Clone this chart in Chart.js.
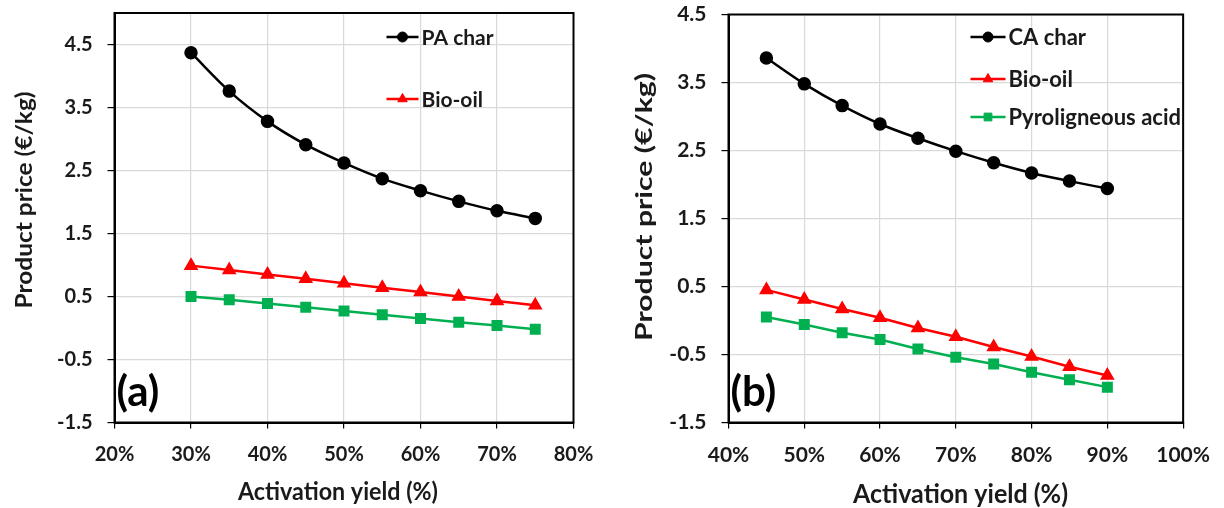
<!DOCTYPE html>
<html>
<head>
<meta charset="utf-8">
<script src="https://cdn.jsdelivr.net/npm/chart.js@4"></script>
<style>
  body { margin: 0; background: #fff; }
  .panel { position: absolute; top: 0; width: 612px; height: 508px; }
</style>
</head>
<body>
<div class="panel" style="left:0"><canvas id="chartA" width="612" height="508"></canvas></div>
<div class="panel" style="left:612px"><canvas id="chartB" width="612" height="508"></canvas></div>
<script>
// panel (a)
var yieldA = [30, 35, 40, 45, 50, 55, 60, 65, 70, 75];
var paChar = [4.37, 3.76, 3.28, 2.91, 2.62, 2.37, 2.18, 2.01, 1.86, 1.74];
var bioOilA = [0.99, 0.92, 0.85, 0.78, 0.71, 0.64, 0.57, 0.50, 0.43, 0.36];
var pyroAcidA = [0.50, 0.45, 0.39, 0.33, 0.27, 0.21, 0.15, 0.09, 0.04, -0.02];

// panel (b)
var yieldB = [45, 50, 55, 60, 65, 70, 75, 80, 85, 90];
var caChar = [3.86, 3.48, 3.16, 2.89, 2.68, 2.49, 2.32, 2.17, 2.05, 1.94];
var bioOilB = [0.45, 0.31, 0.17, 0.04, -0.11, -0.24, -0.39, -0.53, -0.68, -0.81];
var pyroAcidB = [0.05, -0.06, -0.18, -0.28, -0.42, -0.54, -0.64, -0.76, -0.87, -0.98];

var yTicks = [-1.5, -0.5, 0.5, 1.5, 2.5, 3.5, 4.5];
var xTitle = 'Activation yield (%)';
var yTitle = 'Product price (€/kg)';

var FONT = 'Lato';
var TEXT = '#1a1a1a';

function points(xs, ys) {
  return xs.map(function (x, i) { return { x: x, y: ys[i] }; });
}

function charSet(label, data) {
  return {
    label: label, data: data, borderColor: '#000', backgroundColor: '#000',
    borderWidth: 2.5, pointStyle: 'circle', pointRadius: 5.5, pointHoverRadius: 5.5,
    cubicInterpolationMode: 'monotone'
  };
}
function oilSet(data) {
  return {
    label: 'Bio-oil', data: data, borderColor: '#ff0000', backgroundColor: '#ff0000',
    borderWidth: 2.5, pointStyle: 'triangle', pointRadius: 6, pointHoverRadius: 6
  };
}
function acidSet(data) {
  return {
    label: 'Pyroligneous acid', data: data, borderColor: '#00b050', backgroundColor: '#00b050',
    borderWidth: 2.5, pointStyle: 'rect', pointRadius: 6, pointHoverRadius: 6
  };
}

// text squeezed/stretched to a given width, like the original figure
function fitText(ctx, text, cx, cy, size, width, rot) {
  ctx.save();
  ctx.font = 'bold ' + size + 'px ' + FONT;
  ctx.fillStyle = TEXT;
  ctx.textAlign = 'center';
  ctx.textBaseline = 'middle';
  ctx.translate(cx, cy);
  if (rot) ctx.rotate(-Math.PI / 2);
  ctx.scale(width / ctx.measureText(text).width, 1);
  ctx.fillText(text, 0, 0);
  ctx.restore();
}

// frame, panel letter, axis titles and in-plot legend
var decor = {
  id: 'decor',
  beforeDatasetsDraw: function (chart) {
    var a = chart.chartArea, ctx = chart.ctx;
    ctx.save();
    ctx.strokeStyle = '#000';
    ctx.lineWidth = 2;
    ctx.strokeRect(a.left, a.top, a.right - a.left, a.bottom - a.top);
    ctx.restore();
  },
  afterDatasetsDraw: function (chart, args, opts) {
    var a = chart.chartArea, ctx = chart.ctx;
    ctx.save();
    ctx.fillStyle = '#000';
    ctx.font = 'bold 42px ' + FONT;
    ctx.textBaseline = 'middle';
    ctx.fillText(opts.letter, a.left + 2, a.bottom - 30);
    ctx.restore();

    fitText(ctx, xTitle, opts.xt[0], opts.xt[1], opts.xt[2], opts.xt[3], false);
    fitText(ctx, yTitle, opts.yt[0], opts.yt[1], opts.yt[2], opts.yt[3], true);

    ctx.save();
    ctx.font = 'bold ' + opts.size + 'px ' + FONT;
    ctx.textBaseline = 'middle';
    opts.items.forEach(function (idx, k) {
      var ds = chart.data.datasets[idx];
      var x0 = a.left + opts.x, y = opts.y[k];
      ctx.strokeStyle = ds.borderColor;
      ctx.fillStyle = ds.backgroundColor;
      ctx.lineWidth = 2.5;
      ctx.beginPath();
      ctx.moveTo(x0, y);
      ctx.lineTo(x0 + opts.len, y);
      ctx.stroke();
      ctx.lineWidth = 1;
      Chart.helpers.drawPoint(ctx, {
        pointStyle: ds.pointStyle, radius: ds.pointRadius - 0.5, rotation: 0, borderWidth: 1
      }, x0 + opts.len / 2, y);
      ctx.fillStyle = TEXT;
      ctx.fillText(ds.label, x0 + opts.len + 3, y + 1);
    });
    ctx.restore();
  }
};

function makeChart(id, datasets, xMin, xMax, yMax, yWidth, pad, tick, legend) {
  return new Chart(document.getElementById(id), {
    type: 'line',
    data: { datasets: datasets },
    plugins: [decor],
    options: {
      responsive: false,
      animation: false,
      layout: { padding: { top: pad.top, right: pad.right, left: 0, bottom: 0 } },
      plugins: { legend: { display: false }, tooltip: { enabled: false }, decor: legend },
      scales: {
        x: {
          type: 'linear', min: xMin, max: xMax,
          afterFit: function (s) { s.height = 85.5; },
          ticks: {
            stepSize: 10, color: TEXT, padding: 14, maxRotation: 0,
            font: { family: FONT, size: tick, weight: 'bold' },
            callback: function (v) { return v + '%'; }
          },
          grid: { color: '#d9d9d9', lineWidth: 1.2, tickColor: '#000', tickLength: 6 },
          border: { color: '#000', width: 2 }
        },
        y: {
          min: -1.5, max: yMax,
          afterFit: function (s) {
            s.width = yWidth;
            s.paddingTop = 0;
            s.paddingBottom = 0;
          },
          afterBuildTicks: function (s) {
            s.ticks = yTicks.map(function (v) { return { value: v }; });
          },
          ticks: {
            color: TEXT, padding: 15,
            font: { family: FONT, size: tick, weight: 'bold' },
            callback: function (v) { return v.toFixed(1); }
          },
          grid: { color: '#d9d9d9', lineWidth: 1.2, tickColor: '#000', tickLength: 7 },
          border: { color: '#000', width: 2 }
        }
      }
    }
  });
}

makeChart('chartA', [
  charSet('PA char', points(yieldA, paChar)),
  oilSet(points(yieldA, bioOilA)),
  acidSet(points(yieldA, pyroAcidA))
], 20, 80, 5, 114.5, { top: 13, right: 38.5 }, 20,
  { letter: '(a)', x: 272, len: 32, y: [37, 99], items: [0, 1], size: 21,
    xt: [338, 492, 24, 200], yt: [25, 200, 23, 217] });

makeChart('chartB', [
  charSet('CA char', points(yieldB, caChar)),
  oilSet(points(yieldB, bioOilB)),
  acidSet(points(yieldB, pyroAcidB))
], 40, 100, 4.5, 116.5, { top: 14.5, right: 37.5 }, 21,
  { letter: '(b)', x: 242, len: 35, y: [37, 79, 117], items: [0, 1, 2], size: 22,
    xt: [348.5, 495, 26, 215], yt: [33, 207, 23, 268] });
</script>
</body>
</html>
